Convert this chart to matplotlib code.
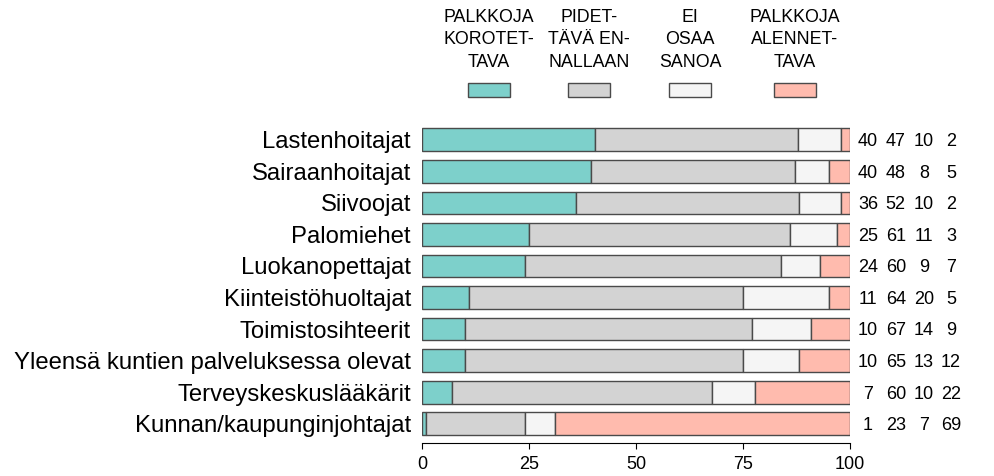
import numpy as np
import matplotlib.pyplot as plt
from matplotlib.patches import Rectangle

plt.rcParams['font.family'] = ['Liberation Sans', 'DejaVu Sans']

# rivit ylhäältä alas
ammatit = ["Lastenhoitajat", "Sairaanhoitajat", "Siivoojat", "Palomiehet",
           "Luokanopettajat", "Kiinteistöhuoltajat", "Toimistosihteerit",
           "Yleensä kuntien palveluksessa olevat", "Terveyskeskuslääkärit",
           "Kunnan/kaupunginjohtajat"]
korotettava = [40, 40, 36, 25, 24, 11, 10, 10, 7, 1]
ennallaan = [47, 48, 52, 61, 60, 64, 67, 65, 60, 23]
ei_osaa = [10, 8, 10, 11, 9, 20, 14, 13, 10, 7]
alennettava = [2, 5, 2, 3, 7, 5, 9, 12, 22, 69]

sarjat = ["PALKKOJA\nKOROTET-\nTAVA", "PIDET-\nTÄVÄ EN-\nNALLAAN",
          "EI\nOSAA\nSANOA", "PALKKOJA\nALENNET-\nTAVA"]
varit = ['#7dd0cb', '#d3d3d3', '#f5f5f5', '#ffbbae']
xticks = [0, 25, 50, 75, 100]

fig = plt.figure(figsize=(9.94, 4.76), dpi=100)
ax = fig.add_axes([0.4245, 0.0693, 0.4306, 0.6702])

data = np.array([korotettava, ennallaan, ei_osaa, alennettava], dtype=float)
osuus = data / data.sum(axis=0) * 100
y = np.arange(len(ammatit))
left = np.zeros(len(ammatit))
for i in range(4):
    ax.barh(y, osuus[i], left=left, height=0.72, color=varit[i],
            edgecolor='#4a4a4a', linewidth=1.0)
    left += osuus[i]

ax.set_xlim(0, 100)
ax.set_ylim(9.61, -0.5)
ax.set_yticks(y)
ax.set_yticklabels(ammatit, fontsize=17.2, va='center_baseline')
ax.tick_params(axis='y', length=0, pad=8)
ax.set_xticks(xticks)
ax.set_xticklabels([str(t) for t in xticks], fontsize=13)
ax.tick_params(axis='x', direction='out', length=4.3, width=0.8, pad=5)

for s in ['left', 'right', 'top']:
    ax.spines[s].set_visible(False)
ax.spines['bottom'].set_bounds(0, 100)
ax.spines['bottom'].set_linewidth(0.8)

# luvut oikealla
sarake_x = [104.2, 110.7, 117.3, 123.6]
for j in range(len(ammatit)):
    for i in range(4):
        ax.text(sarake_x[i], y[j] + 0.06, str(int(data[i, j])), ha='center',
                va='center', fontsize=13, clip_on=False)

# selite
leg_x = [0.492, 0.5926, 0.6942, 0.7998]
for i in range(4):
    fig.add_artist(Rectangle((leg_x[i] - 0.0211, 0.796), 0.0423, 0.0294,
                             transform=fig.transFigure, facecolor=varit[i],
                             edgecolor='#4a4a4a', linewidth=1.0))
    fig.text(leg_x[i], 0.916, sarjat[i], ha='center', va='center',
             multialignment='center', fontsize=12.8, linespacing=1.45)

fig.savefig('out.png', dpi=100)
